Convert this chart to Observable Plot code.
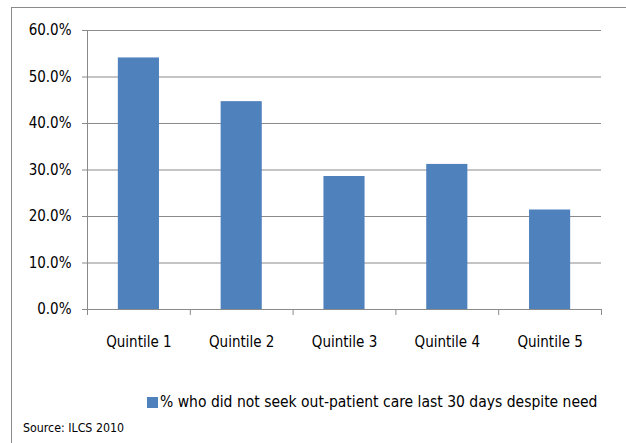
<!DOCTYPE html>
<html>
<head>
<meta charset="utf-8">
<script src="https://cdn.jsdelivr.net/npm/d3@7"></script>
<script src="https://cdn.jsdelivr.net/npm/@observablehq/plot@0.6"></script>
<style>
  html, body { margin: 0; padding: 0; background: #fff; overflow: hidden; }
  #wrap { position: relative; width: 626px; height: 443px; overflow: hidden; background: #fff;
          font-family: 'DejaVu Sans Condensed', 'DejaVu Sans', sans-serif; font-stretch: condensed; color: #000; }
  #frame { position: absolute; left: 11px; top: 7px; width: 700px; height: 500px; border: 1px solid #8a8a8a; box-sizing: border-box; }
  #chart { position: absolute; left: 0; top: 0; }
  #legend { position: absolute; left: 147px; top: 394px; font-size: 15.5px; line-height: 17px; white-space: nowrap; display: flex; align-items: center; }
  #legend .sw { width: 11px; height: 11px; background: #4F81BD; margin-right: 2px; display: inline-block; }
  #source { position: absolute; left: 23px; top: 421px; font-size: 12.3px; line-height: 14px; white-space: nowrap; }
</style>
</head>
<body>
<div id="wrap">
  <div id="frame"></div>
  <div id="chart"></div>
  <div id="legend"></div>
  <div id="source"></div>
</div>
<script>
const quintiles = ["Quintile 1", "Quintile 2", "Quintile 3", "Quintile 4", "Quintile 5"];
const values = [0.541, 0.447, 0.286, 0.312, 0.214];
const yTicks = [0, 0.1, 0.2, 0.3, 0.4, 0.5, 0.6];
const seriesName = "% who did not seek out-patient care last 30 days despite need";
const sourceText = "Source: ILCS 2010";

const data = quintiles.map((q, i) => ({q, i, value: values[i]}));
const fontFamily = "'DejaVu Sans Condensed', 'DejaVu Sans', sans-serif";

const chart = Plot.plot({
  width: 626,
  height: 360,
  marginLeft: 87,
  marginRight: 25,
  marginTop: 30,
  marginBottom: 51,
  style: {fontFamily, fontSize: "15px", color: "#000", background: "transparent", fontStretch: "condensed"},
  x: {domain: [0, quintiles.length], axis: null},
  y: {domain: [0, 0.6], axis: null},
  marks: [
    Plot.gridY({ticks: yTicks, stroke: "#8a8a8a", strokeOpacity: 1}),
    Plot.rectY(data, {x1: d => d.i + 0.3, x2: d => d.i + 0.7, y: "value", fill: "#4F81BD"}),
    Plot.ruleX([0], {stroke: "#8a8a8a"}),
    Plot.ruleY([0], {stroke: "#8a8a8a"}),
    Plot.axisY({ticks: yTicks, tickFormat: d3.format(".1%"), tickSize: 5, tickPadding: 11, stroke: "#8a8a8a", fontSize: 15, fill: "#000", label: null}),
    Plot.axisX({ticks: d3.range(quintiles.length + 1), tickFormat: () => "", tickSize: 6, stroke: "#8a8a8a", label: null}),
    Plot.axisX({ticks: data.map(d => d.i + 0.5), tickFormat: t => quintiles[Math.floor(t)], tickSize: 0, tickPadding: 27, fontSize: 15, fill: "#000", label: null})
  ]
});
document.getElementById("chart").appendChild(chart);

const legend = document.getElementById("legend");
legend.innerHTML = '<span class="sw"></span><span></span>';
legend.lastChild.textContent = seriesName;
document.getElementById("source").textContent = sourceText;
</script>
</body>
</html>
